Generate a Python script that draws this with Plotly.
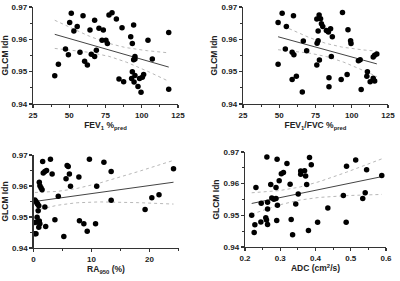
import numpy as np
import plotly.graph_objects as go

# ---------------- data ----------------
fev1_x = [40.0, 42.5, 47.4, 49.4, 50.3, 51.4, 53.2, 55.5, 57.4, 59.5, 60.6, 62.5, 64.3, 65.2, 67.5, 67.5,
          68.7, 70.5, 72.6, 73.5, 75.3, 76.3, 77.4, 79.5, 82.5, 84.3, 86.4, 87.5, 92.4, 93.0, 93.5, 93.5,
          94.4, 94.4, 94.7, 95.3, 95.3, 95.3, 97.4, 98.5, 99.5, 100.4, 101.3, 104.3, 107.3, 118.6, 118.6]
fev1_y = [0.9487, 0.9523, 0.9570, 0.9552, 0.9652, 0.9681, 0.9626, 0.9640, 0.9560, 0.9673, 0.9532, 0.9521,
          0.9629, 0.9554, 0.9659, 0.9547, 0.9566, 0.9634, 0.9597, 0.9629, 0.9597, 0.9587, 0.9675, 0.9682,
          0.9663, 0.9477, 0.9636, 0.9469, 0.9608, 0.9479, 0.9500, 0.9587, 0.9644, 0.9537, 0.9468, 0.9488,
          0.9547, 0.9539, 0.9454, 0.9479, 0.9436, 0.9483, 0.9491, 0.9597, 0.9539, 0.9621, 0.9446]

ratio_x = [49.2, 52.0, 54.9, 59.8, 49.2, 54.2, 58.9, 60.1, 66.6, 68.9, 58.9, 61.8, 65.9, 75.9, 77.5, 76.8,
           76.1, 76.8, 77.7, 75.9, 78.5, 79.1, 80.0, 82.5, 83.9, 85.4, 86.6, 93.6, 97.4, 99.2, 99.5, 85.9,
           104.6, 105.8, 114.8, 115.8, 117.3, 84.3, 84.3, 92.7, 96.8, 106.5, 110.8, 110.4, 112.7, 114.8, 115.8]
ratio_y = [0.9652, 0.9681, 0.9640, 0.9673, 0.9523, 0.9570, 0.9560, 0.9552, 0.9595, 0.9565, 0.9476, 0.9486,
           0.9437, 0.9663, 0.9675, 0.9626, 0.9588, 0.9596, 0.9536, 0.9521, 0.9664, 0.9648, 0.9640, 0.9627,
           0.9623, 0.9633, 0.9608, 0.9683, 0.9630, 0.9596, 0.9587, 0.9547, 0.9534, 0.9537, 0.9545, 0.9551,
           0.9555, 0.9481, 0.9453, 0.9476, 0.9491, 0.9445, 0.9500, 0.9486, 0.9469, 0.9480, 0.9471]

ra_x = [1.58, 2.92, 1.68, 1.96, 2.25, 3.21, 1.0, 1.1, 1.29, 1.48, 0.24, 0.43, 0.62, 0.72, 0.91, 0.81,
        1.96, 4.27, 0.62, 0.24, 0.62, 1.0, 1.1, 0.91, 0.24, 0.43, 2.1, 3.69, 5.23, 9.64, 5.8, 5.99,
        6.19, 5.61, 6.38, 7.82, 7.92, 8.68, 9.26, 10.7, 10.9, 12.14, 13.39, 13.39, 19.24, 20.4, 21.64, 24.14]
ra_y = [0.9679, 0.9686, 0.9642, 0.9647, 0.9650, 0.9639, 0.9612, 0.9601, 0.9594, 0.9588, 0.9555, 0.9550,
        0.9544, 0.9541, 0.9536, 0.9520, 0.9532, 0.9567, 0.9499, 0.9482, 0.9484, 0.9487, 0.9478, 0.9467,
        0.9446, 0.9446, 0.9469, 0.9491, 0.9437, 0.9686, 0.9666, 0.9663, 0.9639, 0.9623, 0.9599, 0.9629,
        0.9488, 0.9478, 0.9454, 0.9478, 0.9599, 0.9677, 0.9647, 0.9554, 0.9524, 0.9562, 0.9572, 0.9656]

adc_x = [0.262, 0.291, 0.319, 0.231, 0.273, 0.288, 0.297, 0.303, 0.309, 0.328, 0.246, 0.264, 0.276, 0.282,
         0.288, 0.264, 0.292, 0.219, 0.228, 0.226, 0.245, 0.259, 0.261, 0.264, 0.290, 0.331, 0.335, 0.351,
         0.344, 0.358, 0.358, 0.369, 0.372, 0.375, 0.383, 0.388, 0.380, 0.406, 0.435, 0.479, 0.488, 0.514,
         0.545, 0.541, 0.534, 0.487, 0.588]
adc_y = [0.9684, 0.9677, 0.9664, 0.9588, 0.9597, 0.9588, 0.9609, 0.9631, 0.9635, 0.9598, 0.9538, 0.9541,
         0.9555, 0.9551, 0.9553, 0.9520, 0.9532, 0.9500, 0.9470, 0.9446, 0.9479, 0.9492, 0.9485, 0.9471,
         0.9484, 0.9487, 0.9439, 0.9567, 0.9536, 0.9630, 0.9640, 0.9641, 0.9624, 0.9597, 0.9683, 0.9660,
         0.9452, 0.9478, 0.9523, 0.9563, 0.9655, 0.9675, 0.9644, 0.9571, 0.9553, 0.9478, 0.9626]

x_titles = ["FEV<sub>1</sub> %<sub>pred</sub>", "FEV<sub>1</sub>/FVC %<sub>pred</sub>",
            "RA<sub>950</sub> (%)", "ADC (cm<sup>2</sup>/s)"]
y_title = "GLCM Idn"

# ---------------- layout ----------------
W, H = 400, 281
FONT = "Arial, Liberation Sans, sans-serif"
panels = [
    dict(x=fev1_x, y=fev1_y, xr=[25, 125], dt=25, mdt=12.5, fmt="d", px=(33, 178), py=(7, 104)),
    dict(x=ratio_x, y=ratio_y, xr=[25, 125], dt=25, mdt=12.5, fmt="d", px=(243, 388), py=(7, 104)),
    dict(x=ra_x, y=ra_y, xr=[0, 25], dt=10, mdt=5, fmt="d", px=(33.5, 178.5), py=(155, 248)),
    dict(x=adc_x, y=adc_y, xr=[0.2, 0.6], dt=0.1, mdt=0.05, fmt=".1f", px=(245, 386), py=(152, 247)),
]

fig = go.Figure()
T_CRIT = 2.01
for i, p in enumerate(panels, start=1):
    xa = "x" if i == 1 else f"x{i}"
    ya = "y" if i == 1 else f"y{i}"
    x = np.array(p["x"]); y = np.array(p["y"])
    n = len(x)
    b, a = np.polyfit(x, y, 1)
    resid = y - (a + b * x)
    s = np.sqrt(np.sum(resid ** 2) / (n - 2))
    xbar = x.mean(); sxx = np.sum((x - xbar) ** 2)
    xg = np.linspace(x.min(), x.max(), 60)
    yg = a + b * xg
    hw = T_CRIT * s * np.sqrt(1 / n + (xg - xbar) ** 2 / sxx)
    for band in (yg + hw, yg - hw):
        fig.add_trace(go.Scatter(x=xg, y=band, mode="lines", xaxis=xa, yaxis=ya,
                                 line=dict(color="#b8b8b8", width=1, dash="dot"), showlegend=False))
    fig.add_trace(go.Scatter(x=xg, y=yg, mode="lines", xaxis=xa, yaxis=ya,
                             line=dict(color="#444444", width=1), showlegend=False))
    fig.add_trace(go.Scatter(x=x, y=y, mode="markers", xaxis=xa, yaxis=ya, cliponaxis=False,
                             marker=dict(color="black", size=5.5), showlegend=False))

    xd = [p["px"][0] / W, p["px"][1] / W]
    yd = [1 - p["py"][1] / H, 1 - p["py"][0] / H]
    common = dict(showgrid=False, zeroline=False, showline=True, linecolor="#333", linewidth=1.3,
                  ticks="outside", ticklen=3, tickwidth=1.1, tickcolor="#333", automargin=False,
                  ticklabeloverflow="allow",
                  tickfont=dict(family=FONT, size=8, color="#222", weight="bold"))
    xkey = "xaxis" if i == 1 else f"xaxis{i}"
    ykey = "yaxis" if i == 1 else f"yaxis{i}"
    fig.update_layout(**{
        xkey: dict(domain=xd, range=p["xr"], anchor=ya, tickmode="linear", tick0=p["xr"][0], dtick=p["dt"],
                   tickformat=p["fmt"],
                   title=dict(text=x_titles[i - 1], standoff=3,
                              font=dict(family=FONT, size=8.5, color="#222", weight="bold")),
                   minor=dict(ticks="outside", ticklen=2, dtick=p["mdt"], tick0=p["xr"][0], tickcolor="#333"),
                   **common),
        ykey: dict(domain=yd, range=[0.94, 0.97], anchor=xa, tickmode="linear", tick0=0.94, dtick=0.01,
                   tickformat=".2f",
                   title=dict(text=y_title, standoff=2,
                              font=dict(family=FONT, size=8.5, color="#222", weight="bold")),
                   minor=dict(ticks="outside", ticklen=2, dtick=0.005, tick0=0.94, tickcolor="#333"),
                   **common),
    })

fig.update_layout(width=W, height=H, margin=dict(l=0, r=0, t=0, b=0),
                  paper_bgcolor="white", plot_bgcolor="white", hovermode=False)
fig.write_html("out.html", config={"displayModeBar": False, "staticPlot": True},
               post_script="document.body.style.margin='0px';document.body.style.overflow='hidden';")
